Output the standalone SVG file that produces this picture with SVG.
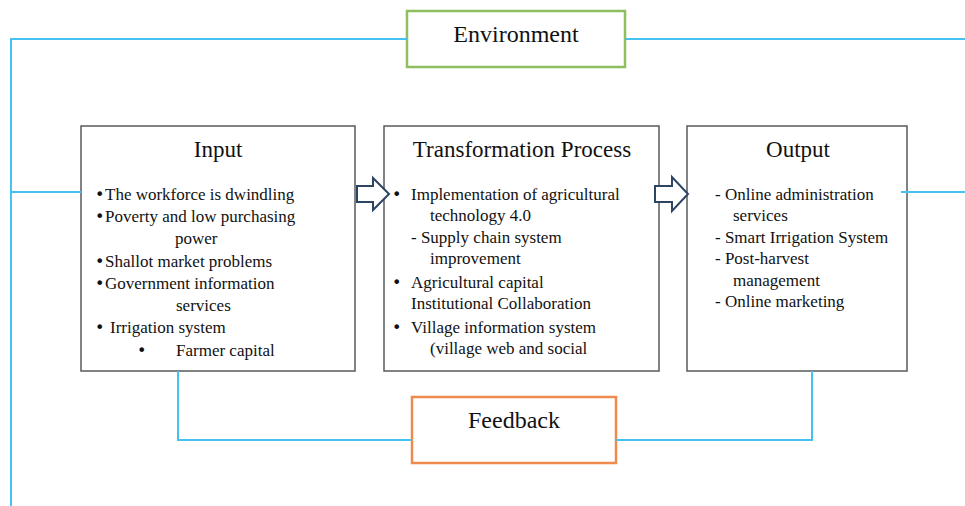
<svg xmlns="http://www.w3.org/2000/svg" width="965" height="506" viewBox="0 0 965 506">
<style>
  .box { fill: #ffffff; stroke: #595959; stroke-width: 1.5; }
  .env { fill: #ffffff; stroke: #8dbf5e; stroke-width: 2.5; }
  .fb { fill: #ffffff; stroke: #ee8a4c; stroke-width: 2.5; }
  .link { fill: none; stroke: #45c2f2; stroke-width: 2; }
  .blk { fill: #ffffff; stroke: #2e4463; stroke-width: 2; stroke-linejoin: miter; }
  .title { font-family: "Liberation Serif", "Times New Roman", serif; font-size: 23px; fill: #111; text-anchor: middle; }
  .big { font-family: "Liberation Serif", "Times New Roman", serif; font-size: 24px; fill: #111; text-anchor: middle; }
  .t { font-family: "Liberation Serif", "Times New Roman", serif; font-size: 17px; fill: #111; }
  .b { font-family: "DejaVu Sans", "Liberation Sans", sans-serif; font-size: 16px; fill: #111; }
</style>
<g id="environment">
  <rect class="env" x="407" y="11" width="218" height="56"/>
  <text class="big" x="516" y="42">Environment</text>
</g>
<g id="input">
  <rect class="box" x="81" y="126" width="274" height="245"/>
  <text class="title" x="218" y="157">Input</text>
  <text class="b" x="95" y="200">•</text>
  <text class="t" x="105" y="200">The workforce is dwindling</text>
  <text class="b" x="95" y="222">•</text>
  <text class="t" x="105" y="222">Poverty and low purchasing</text>
  <text class="t" x="175" y="244">power</text>
  <text class="b" x="95" y="267">•</text>
  <text class="t" x="105" y="267">Shallot market problems</text>
  <text class="b" x="95" y="289">•</text>
  <text class="t" x="105" y="289">Government information</text>
  <text class="t" x="176" y="311">services</text>
  <text class="b" x="95" y="333">•</text>
  <text class="t" x="110" y="333">Irrigation system</text>
  <text class="b" x="137" y="356">•</text>
  <text class="t" x="176" y="356">Farmer capital</text>
</g>
<g id="transformation">
  <rect class="box" x="384" y="126" width="275" height="245"/>
  <text class="title" x="522" y="157">Transformation Process</text>
  <text class="b" x="392" y="200">•</text>
  <text class="t" x="411" y="200">Implementation of agricultural</text>
  <text class="t" x="430" y="221">technology 4.0</text>
  <text class="t" x="411" y="243">- Supply chain system</text>
  <text class="t" x="430" y="264">improvement</text>
  <text class="b" x="392" y="288">•</text>
  <text class="t" x="411" y="288">Agricultural capital</text>
  <text class="t" x="411" y="309">Institutional Collaboration</text>
  <text class="b" x="392" y="333">•</text>
  <text class="t" x="411" y="333">Village information system</text>
  <text class="t" x="430" y="354">(village web and social</text>
</g>
<g id="output">
  <rect class="box" x="687" y="126" width="220" height="245"/>
  <text class="title" x="798" y="157">Output</text>
  <text class="t" x="715" y="200">- Online administration</text>
  <text class="t" x="733" y="221">services</text>
  <text class="t" x="715" y="243">- Smart Irrigation System</text>
  <text class="t" x="715" y="264">- Post-harvest</text>
  <text class="t" x="733" y="286">management</text>
  <text class="t" x="715" y="307">- Online marketing</text>
</g>
<g id="feedback">
  <rect class="fb" x="412" y="397" width="204" height="66"/>
  <text class="big" x="514" y="428">Feedback</text>
</g>
<g id="connectors">
  <polyline class="link" points="407,39 11,39 11,506"/>
  <line class="link" x1="625" y1="39" x2="965" y2="39"/>
  <line class="link" x1="11" y1="192" x2="81" y2="192"/>
  <line class="link" x1="901" y1="192" x2="965" y2="192"/>
  <polyline class="link" points="178,371 178,440 412,440"/>
  <polyline class="link" points="616,440 812,440 812,371"/>
  <path class="blk" d="M357,186 H373 V178 L389,194 L373,210 V202 H357 Z"/>
  <path class="blk" d="M655,186 H672 V177 L688,194 L672,211 V202 H655 Z"/>
</g>
</svg>
